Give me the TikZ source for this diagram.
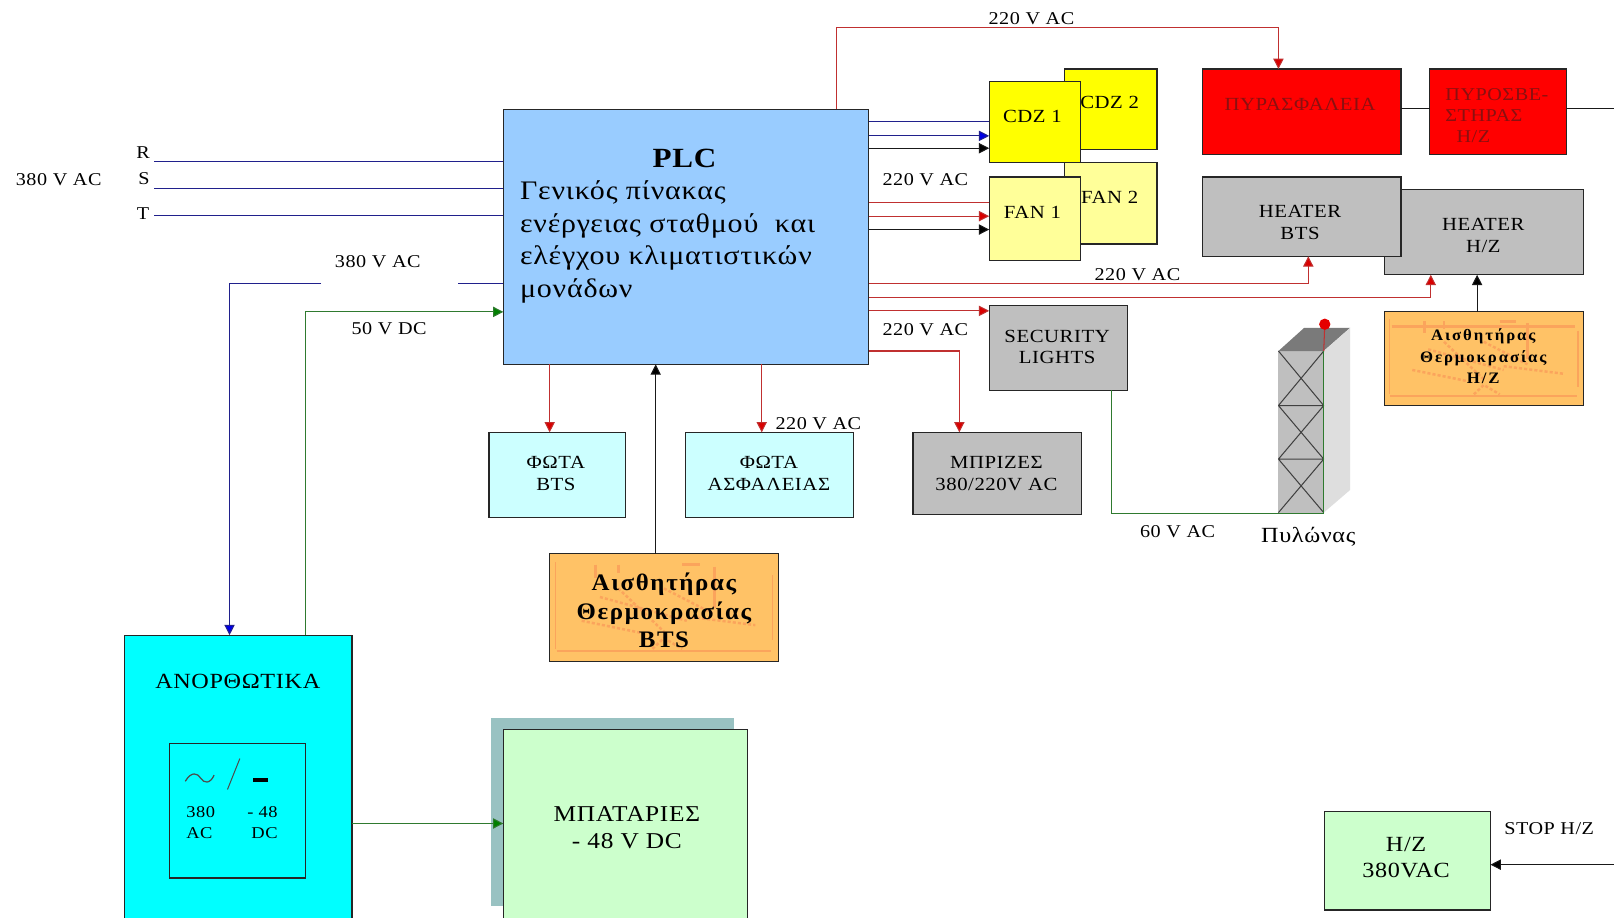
\documentclass[tikz,border=0pt]{standalone}
\usepackage{fontspec}
\setmainfont[FakeStretch=1.12,LetterSpace=3]{Liberation Serif}
\newfontfamily\widefont[LetterSpace=12,FakeStretch=1.05]{Liberation Serif}
\newfontfamily\medfont[LetterSpace=7,FakeStretch=1.05]{Liberation Serif}
\usetikzlibrary{arrows.meta}
\definecolor{wred}{HTML}{C03030}
\definecolor{wblue}{HTML}{20208C}
\definecolor{wgreen}{HTML}{2F7A2F}
\definecolor{plcblue}{HTML}{99CCFF}
\definecolor{sens}{HTML}{FFC266}
\definecolor{sensd}{HTML}{FBA45C}
\definecolor{pureyel}{HTML}{FFFF00}
\definecolor{purecyan}{HTML}{00FFFF}
\definecolor{purered}{HTML}{FF0000}
\definecolor{paleyel}{HTML}{FFFF99}
\definecolor{paleteal}{HTML}{CCFFFF}
\definecolor{palegrn}{HTML}{CCFFCC}
\definecolor{shadowc}{HTML}{99C2C2}
\definecolor{firetxt}{HTML}{8A1010}
\tikzset{
  box/.style={draw=black!85,line width=1.1pt,outer sep=0pt,inner sep=0pt},
  txt/.style={inner sep=0pt,align=center,yshift=-1pt,font=\fontsize{17.5}{21}\selectfont},
  boxt/.style={txt,yshift=1pt,font=\fontsize{18}{21}\selectfont},
  redl/.style={wred,line width=1pt},
  redarrow/.style={redl,-{Triangle[length=10pt,width=10pt,fill=purered!85!black]}},
  bluel/.style={wblue,line width=1pt},
  bluearrow/.style={bluel,-{Triangle[length=10pt,width=10pt,fill=blue!90!black]}},
  greenl/.style={wgreen,line width=1pt},
  greenarrow/.style={greenl,-{Triangle[length=10pt,width=10pt,fill=green!50!black]}},
  blackl/.style={black!90,line width=1pt},
  blackarrow/.style={blackl,-{Triangle[length=10pt,width=10pt,fill=black]}},
  towerl/.style={black!75,line width=1pt},
  blotch/.style={line width=2.4pt,dash pattern=on 3pt off 2pt},
}
\newcommand{\bx}[6]{%
  \pgfmathsetmacro{\bxw}{#4-#2}\pgfmathsetmacro{\bxh}{#5-#3}%
  \pgfmathsetmacro{\bxx}{(#2+#4)/2}\pgfmathsetmacro{\bxy}{(#3+#5)/2}%
  \node[box,fill=#6,minimum width=\bxw pt,minimum height=\bxh pt] (#1) at (\bxx,\bxy) {};}
\newcommand{\sensorpat}[4]{%
  \begin{scope}[shift={(#1,#2)},x=#3pt,y=-#4pt,sensd]
    \draw[line width=2.4pt] (.03,.90)--(.97,.90);
    \draw[line width=1.6pt] (.025,.08)--(.025,.88) (.975,.2)--(.975,.8);
    \draw[line width=2.6pt] (.2,.1)--(.2,.22) (.3,.1)--(.3,.18) (.58,.1)--(.66,.1) (.72,.12)--(.72,.5);
    \draw[blotch] (.22,.4)--(.6,.62) (.3,.32)--(.5,.72) (.14,.62)--(.42,.74) (.5,.32)--(.72,.56) (.6,.58)--(.9,.66) (.45,.88)--(.5,.78)--(.58,.88);
  \end{scope}}
\begin{document}
\begin{tikzpicture}[x=1pt,y=-1pt]
\clip (0,0) rectangle (1568,891);
\fill[white] (0,0) rectangle (1568,891);
% boxes
\bx{plc}{489}{106}{844}{354}{plcblue}
\bx{cdzb}{1034}{67}{1124}{145}{pureyel}
\bx{fanb}{1034}{158}{1124}{237}{paleyel}
\bx{cdza}{961}{79}{1050}{158}{pureyel}
\bx{fana}{961}{172}{1050}{253}{paleyel}
\bx{fire}{1168}{67}{1361}{150}{purered}
\bx{ext}{1389}{67}{1522}{150}{purered}
\bx{heatz}{1345}{184}{1538}{267}{black!25}
\bx{heatb}{1168}{172}{1361}{249}{black!25}
\bx{sec}{961}{297}{1095}{379}{black!25}
\bx{senz}{1345}{303}{1538}{394}{sens}
\sensorpat{1345}{303}{193}{91}
\draw[sensd,line width=3pt] (1352,317) -- (1530,317);
\draw[box,fill=none] (senz.south west) rectangle (senz.north east);
\bx{lbts}{475}{420}{608}{503}{paleteal}
\bx{lsafe}{666}{420}{829}{503}{paleteal}
\bx{sock}{887}{420}{1051}{500}{black!25}
\bx{senb}{534}{538}{756}{643}{sens}
\sensorpat{534}{538}{222}{105}
\draw[box,fill=none] (senb.south west) rectangle (senb.north east);
\bx{rect}{121}{617}{342}{910}{purecyan}
\bx{inner}{165}{722}{297}{853}{purecyan}
\fill[shadowc] (477,698) rectangle (713,880);
\bx{batt}{489}{709}{726}{910}{palegrn}
\bx{gen}{1287}{788}{1448}{884}{palegrn}
% tower
\fill[black!25] (1242,341) rectangle (1286,498);
\fill[black!52] (1242,341) -- (1267,318.5) -- (1311.6,318.5) -- (1286,341) -- cycle;
\fill[black!13] (1286,341) -- (1311.6,318.5) -- (1311.6,476) -- (1286,498) -- cycle;
\draw[towerl] (1242,341) -- (1286,394) (1286,341) -- (1242,394) (1242,394) -- (1286,394)
  (1242,394) -- (1286,446) (1286,394) -- (1242,446) (1242,446) -- (1286,446)
  (1242,446) -- (1286,498) (1286,446) -- (1242,498);
\coordinate (towerbase) at (1286,499);
\coordinate (towertop) at (1286,341);
\node[circle,fill=purered!90!black,minimum size=11pt,inner sep=0pt] (lamp) at (1287,315) {};
\draw[redl] (towertop) -- (lamp);
\draw[greenl] (sec.south -| 1080,0) -- (1080,499) -- (towerbase) -- (towertop);
% free ends
\coordinate (rend) at (150,157);
\coordinate (send) at (150,183);
\coordinate (tend) at (150,209);
\coordinate (eastend) at (1568,105);
\coordinate (stopend) at (1568,840);
\coordinate (gapa) at (445,275);
\coordinate (gapb) at (312,275);
% connectors
\draw[bluel] (rend) -- (plc.west |- rend);
\draw[bluel] (send) -- (plc.west |- send);
\draw[bluel] (tend) -- (plc.west |- tend);
\draw[bluel] (plc.west |- gapa) -- (gapa);
\draw[bluearrow] (gapb) -- (223,275) -- (rect.north -| 223,0);
\draw[greenarrow] (rect.north -| 297,0) -- (297,303) -- (plc.west |- 0,303);
\draw[bluel] (plc.east |- 0,118) -- (cdza.west |- 0,118);
\draw[bluearrow] (plc.east |- 0,132) -- (cdza.west |- 0,132);
\draw[blackarrow] (plc.east |- 0,144) -- (cdza.west |- 0,144);
\draw[redl] (plc.east |- 0,197) -- (fana.west |- 0,197);
\draw[redarrow] (plc.east |- 0,210) -- (fana.west |- 0,210);
\draw[blackarrow] (plc.east |- 0,223) -- (fana.west |- 0,223);
\draw[redarrow] (plc.north -| 813,0) -- (813,27) -- (1242,27) -- (fire.north -| 1242,0);
\draw[redarrow] (plc.east |- 0,275) -- (1271,275) -- (heatb.south -| 1271,0);
\draw[redarrow] (plc.east |- 0,289) -- (1390,289) -- (heatz.south -| 1390,0);
\draw[redarrow] (plc.east |- 0,302) -- (sec.west |- 0,302);
\draw[redarrow] (plc.east |- 0,341) -- (932,341) -- (sock.north -| 932,0);
\draw[redarrow] (plc.south -| 534,0) -- (lbts.north -| 534,0);
\draw[redarrow] (plc.south -| 740,0) -- (lsafe.north -| 740,0);
\draw[blackarrow] (senb.north -| 637,0) -- (plc.south -| 637,0);
\draw[blackarrow] (senz.north -| 1435,0) -- (heatz.south -| 1435,0);
\draw[blackl] (fire.east |- eastend) -- (ext.west |- eastend);
\draw[blackl] (ext.east |- eastend) -- (eastend);
\draw[greenarrow] (rect.east |- 0,800) -- (batt.west |- 0,800);
\draw[blackarrow] (stopend) -- (gen.east |- stopend);
% text
\node[txt,font=\bfseries\fontsize{27}{30}\selectfont] (plct) at (665,153) {PLC};
\node[inner sep=0pt,anchor=north west,align=left,font=\fontsize{26}{31.5}\selectfont] (plcb) at (505,175.5) {Γενικός πίνακας\\ενέργειας σταθμού\ \ και\\ελέγχου κλιματιστικών\\μονάδων};
\node[txt] (r) at (139,147.5) {R};
\node[txt] (s) at (140,172.5) {S};
\node[txt] (t) at (139,206.5) {T};
\node[txt] (v1) at (57,174) {380 V AC};
\node[txt] (v2) at (367,253) {380 V AC};
\node[txt] (v3) at (378,318.5) {50 V DC};
\node[txt] (v4) at (1002,17) {220 V AC};
\node[txt] (v5) at (899,174) {220 V AC};
\node[txt] (v6) at (1105,265.5) {220 V AC};
\node[txt] (v7) at (899,319) {220 V AC};
\node[txt] (v8) at (795,411) {220 V AC};
\node[txt] (v9) at (1144,515.5) {60 V AC};
\node[txt,font=\fontsize{21}{24}\selectfont] (pyl) at (1271,520) {Πυλώνας};
\node[txt] (stop) at (1505,804) {STOP H/Z};
\node[boxt] (t1) at (1003,113) {CDZ 1};
\node[boxt] (t2) at (1078,100) {CDZ 2};
\node[boxt] (t3) at (1003,206) {FAN 1};
\node[boxt] (t4) at (1078,192) {FAN 2};
\node[txt,text=firetxt,font=\fontsize{18}{21}\selectfont] (t5) at (1263,100) {ΠΥΡΑΣΦΑΛΕΙΑ};
\node[txt,text=firetxt,align=left,anchor=west,font=\fontsize{17.5}{20.5}\selectfont] (t6) at (1404,111) {ΠΥΡΟΣΒΕ-\\ΣΤΗΡΑΣ\\\ \ H/Z};
\node[boxt] (t7) at (1263,216) {HEATER\\BTS};
\node[boxt] (t8) at (1441,229) {HEATER\\H/Z};
\node[boxt] (t9) at (1027,337) {SECURITY\\LIGHTS};
\node[boxt] (t10) at (540,460) {ΦΩΤΑ\\BTS};
\node[boxt] (t11) at (747,460) {ΦΩΤΑ\\ΑΣΦΑΛΕΙΑΣ};
\node[boxt] (t12) at (968,460) {ΜΠΡΙΖΕΣ\\380/220V AC};
\node[txt,font=\medfont\bfseries\fontsize{23}{28}\selectfont] (t13) at (645,592) {Αισθητήρας\\Θερμοκρασίας\\BTS};
\node[txt,font=\widefont\bfseries\fontsize{15.5}{20.5}\selectfont] (t14) at (1441,345) {Αισθητήρας\\Θερμοκρασίας\\H/Z};
\node[txt,font=\fontsize{21}{26}\selectfont] (t15) at (231,661) {ΑΝΟΡΘΩΤΙΚΑ};
\node[txt,font=\fontsize{22}{26.5}\selectfont] (t16) at (609,803) {ΜΠΑΤΑΡΙΕΣ\\- 48 V DC};
\node[txt,font=\fontsize{21}{26}\selectfont] (t17) at (1366,832) {H/Z\\380VAC};
\node[txt,align=left,font=\fontsize{16}{20.5}\selectfont] (t18) at (195,798) {380\\AC};
\node[txt,align=right,font=\fontsize{16}{20.5}\selectfont] (t19) at (255,798) {- 48\\DC};
\draw[black!70,line width=1.2pt] (180,759) .. controls (186,749) and (192,751) .. (195,756) .. controls (198,761) and (204,762) .. (208,753);
\draw[black!70,line width=1pt] (233,737) -- (221,767);
\fill[black] (246,755.5) rectangle (260,760);
\end{tikzpicture}
\end{document}
